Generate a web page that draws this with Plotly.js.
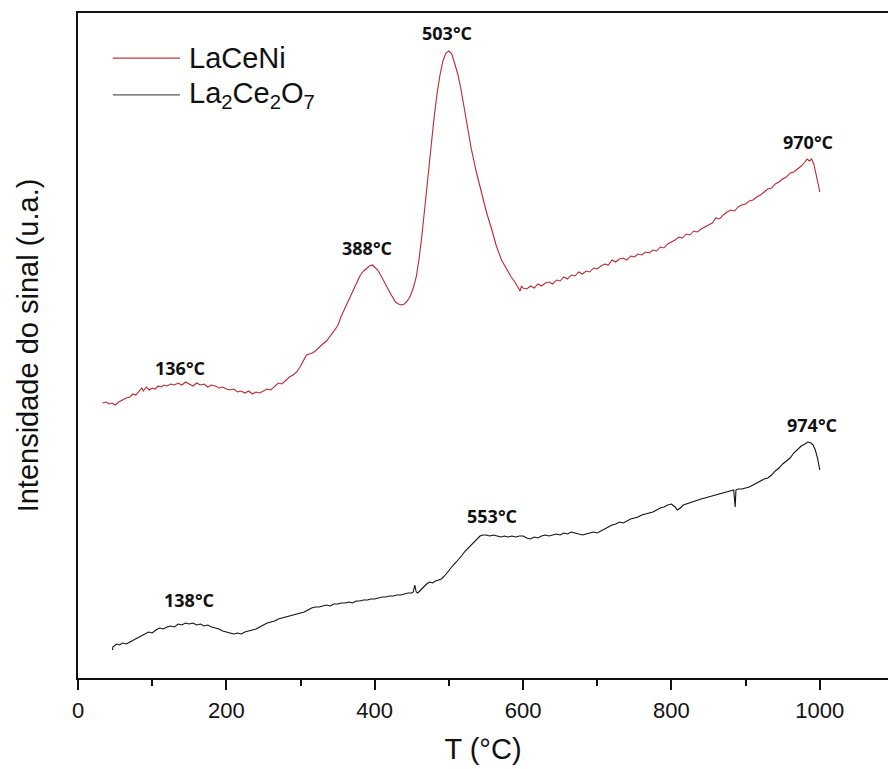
<!DOCTYPE html>
<html>
<head>
<meta charset="utf-8">
<script src="https://cdn.plot.ly/plotly-3.0.1.min.js"></script>
<style>html,body{margin:0;padding:0;background:#fff;}#chart{width:888px;height:769px;}</style>
</head>
<body>
<div id="chart"></div>
<script>
// Series names
const seriesNames = ["LaCeNi", "La<sub>2</sub>Ce<sub>2</sub>O<sub>7</sub>"];

// LaCeNi (red) — temperature (°C) and signal intensity (a.u.)
const laceniT = [33, 38, 42, 46, 50, 55, 60, 65, 70, 74, 78, 82, 86, 88, 92, 96, 100, 104, 108, 112, 116, 120, 125, 130, 135, 140, 145, 150, 155, 160, 165, 170, 175, 180, 185, 190, 195, 200, 205, 210, 215, 220, 225, 230, 235, 240, 245, 250, 255, 260, 265, 270, 275, 280, 285, 290, 295, 300, 305, 308, 312, 316, 320, 325, 330, 335, 340, 345, 350, 355, 360, 365, 370, 375, 380, 385, 389, 393, 397, 400, 404, 408, 412, 416, 420, 424, 428, 432, 436, 440, 444, 448, 452, 456, 460, 464, 468, 472, 476, 480, 484, 488, 492, 496, 500, 504, 508, 512, 516, 520, 525, 530, 537, 545, 551, 558, 564, 571, 578, 584, 589, 593, 596, 598, 600, 605, 610, 615, 620, 625, 630, 635, 640, 645, 650, 655, 660, 665, 670, 675, 680, 685, 690, 695, 700, 705, 710, 715, 720, 725, 730, 735, 740, 745, 750, 755, 760, 765, 770, 775, 780, 785, 790, 795, 800, 805, 810, 815, 820, 825, 830, 835, 840, 845, 850, 855, 860, 865, 870, 875, 880, 885, 890, 895, 900, 905, 910, 915, 920, 925, 930, 935, 940, 945, 950, 955, 960, 965, 970, 975, 980, 983, 986, 989, 992, 995, 997, 999, 1000];
const laceniY = [275, 276, 274, 275, 273, 276, 278, 280, 281, 284, 283, 286, 290, 287, 291, 288, 290, 289, 292, 291, 293, 292, 294, 293, 295, 293, 296, 294, 292, 295, 293, 294, 291, 293, 292, 290, 291, 289, 288, 289, 286, 287, 285, 287, 284, 286, 285, 287, 289, 288, 292, 295, 294, 298, 301, 303, 306, 312, 319, 323, 324, 325, 327, 331, 334, 337, 342, 347, 352, 362, 370, 378, 387, 395, 402, 407, 410, 412, 413, 411, 408, 403, 397, 392, 386, 381, 376, 374, 373, 374, 377, 382, 390, 401, 420, 445, 475, 503, 533, 560, 584, 603, 617, 625, 627, 624, 614, 604, 590, 572, 549, 530, 506, 482, 465, 448, 432, 418, 408, 401, 396, 391, 387, 392, 390, 389, 392, 390, 394, 392, 395, 396, 394, 398, 397, 401, 399, 403, 402, 406, 404, 407, 406, 410, 409, 412, 414, 413, 418, 416, 419, 420, 418, 422, 421, 424, 423, 426, 425, 428, 427, 431, 430, 434, 436, 438, 441, 440, 444, 443, 447, 446, 449, 451, 453, 455, 460, 459, 463, 466, 468, 467, 471, 473, 474, 477, 478, 481, 483, 486, 489, 490, 494, 496, 499, 501, 505, 506, 509, 512, 516, 519, 517, 519, 514, 505, 497, 490, 486];

// La2Ce2O7 (black)
const lceoT = [46.5, 47, 52, 56, 60, 65, 70, 75, 80, 85, 90, 95, 100, 105, 110, 115, 120, 125, 130, 135, 140, 145, 150, 155, 160, 165, 170, 175, 180, 185, 190, 195, 200, 205, 210, 215, 220, 225, 230, 235, 240, 245, 250, 255, 260, 265, 270, 275, 280, 285, 290, 295, 300, 305, 310, 315, 320, 325, 330, 335, 340, 345, 350, 355, 360, 365, 370, 375, 380, 385, 390, 395, 400, 405, 410, 415, 420, 425, 430, 435, 440, 445, 450, 452, 454, 456, 458, 462, 466, 470, 474, 478, 482, 486, 490, 494, 498, 502, 506, 510, 514, 518, 522, 526, 530, 534, 538, 542, 546, 550, 555, 560, 565, 570, 575, 580, 585, 590, 595, 600, 605, 610, 615, 620, 625, 630, 635, 640, 645, 650, 655, 660, 665, 670, 675, 680, 685, 690, 695, 700, 705, 710, 715, 720, 725, 730, 735, 740, 745, 750, 755, 760, 765, 770, 775, 780, 785, 790, 795, 800, 805, 808, 812, 816, 820, 825, 830, 835, 840, 845, 850, 855, 860, 865, 870, 875, 880, 884, 886, 887, 890, 895, 900, 905, 910, 915, 920, 925, 930, 935, 940, 945, 950, 955, 960, 965, 970, 975, 980, 984, 988, 991, 994, 997, 1000];
const lceoY = [28, 31, 34, 33, 35, 34, 36, 38, 40, 42, 44, 46, 45, 48, 50, 49, 51, 52, 51, 54, 53, 55, 54, 55, 53, 54, 52, 53, 51, 50, 49, 47, 46, 45, 44, 45, 44, 46, 47, 48, 49, 51, 53, 55, 56, 57, 59, 60, 61, 62, 63, 64, 65, 66, 68, 70, 71, 71, 72, 73, 72, 74, 74, 75, 75, 76, 75, 77, 77, 78, 78, 79, 79, 80, 81, 81, 82, 82, 83, 83, 84, 85, 85, 86, 93, 86, 85, 88, 92, 94, 96, 95, 97, 98, 99, 102, 106, 109, 113, 116, 119, 123, 127, 130, 133, 136, 140, 142, 143, 143, 142, 143, 142, 141, 142, 141, 142, 141, 142, 142, 140, 139, 141, 140, 142, 143, 142, 143, 144, 143, 145, 144, 146, 145, 144, 143, 144, 145, 146, 145, 147, 149, 151, 153, 154, 156, 155, 157, 159, 160, 161, 163, 164, 165, 166, 168, 170, 171, 173, 174, 171, 168, 170, 173, 174, 176, 177, 178, 179, 180, 181, 182, 183, 184, 185, 186, 187, 188, 171, 188, 189, 189, 190, 191, 193, 195, 197, 199, 200, 203, 207, 210, 214, 217, 220, 225, 229, 232, 234, 236, 235, 233, 228, 220, 208];

// Peak labels
const peakLabels = ["503°C", "388°C", "136°C", "970°C", "974°C", "553°C", "138°C"];
const peakT = [498, 390, 137, 984, 989, 558, 150];
const peakY = [645, 430, 310, 536, 253, 162, 78];

// Axis tick values
const xTicks = [0, 200, 400, 600, 800, 1000];
const xTickText = ["0", "200", "400", "600", "800", "1000"];
const xMinorTicks = [100, 300, 500, 700, 900];

const colors = ["#c1272d", "#111111"];
const legendColors = ["#c0393f", "#555555"];

const traces = [
  {x: laceniT, y: laceniY, name: seriesNames[0], type: "scatter", mode: "lines", line: {color: colors[0], width: 1.1}, showlegend: false},
  {x: lceoT, y: lceoY, name: seriesNames[1], type: "scatter", mode: "lines", line: {color: colors[1], width: 1.1}, showlegend: false}
];

const annotations = peakLabels.map((t, i) => ({
  x: peakT[i], y: peakY[i], xref: "x", yref: "y", text: "<b>" + t + "</b>", showarrow: false,
  font: {family: "Open Sans, Liberation Sans, sans-serif", size: 18, color: "#111"},
  xanchor: "center", yanchor: "middle"
}));

// custom legend (line sample + label)
const legY = [0.932, 0.877];
const shapes = [];
seriesNames.forEach((n, i) => {
  shapes.push({type: "line", xref: "paper", yref: "paper", x0: 0.043, x1: 0.126, y0: legY[i], y1: legY[i], line: {color: legendColors[i], width: 1.3}});
  annotations.push({x: 0.135, y: legY[i], xref: "paper", yref: "paper", text: n, showarrow: false, xanchor: "left", yanchor: "middle",
    font: {family: "Liberation Sans, Arial, sans-serif", size: 29, color: "#111"}});
});

const layout = {
  width: 888, height: 769,
  margin: {l: 78, r: 0, t: 13, b: 91},
  paper_bgcolor: "#fff", plot_bgcolor: "#fff",
  showlegend: false,
  font: {family: "Liberation Sans, Arial, sans-serif", color: "#111"},
  xaxis: {
    range: [0, 1092], showgrid: false, zeroline: false,
    showline: true, linecolor: "#111", linewidth: 2, mirror: true,
    ticks: "outside", ticklen: 10, tickwidth: 2, tickcolor: "#111",
    tickvals: xTicks, ticktext: xTickText, ticklabelstandoff: 2,
    tickfont: {size: 22, color: "#111"},
    minor: {tickvals: xMinorTicks, ticks: "outside", ticklen: 6, tickwidth: 2, tickcolor: "#111"},
    title: {text: "T (°C)", font: {size: 29, color: "#111"}, standoff: 16}
  },
  yaxis: {
    range: [0, 665], showgrid: false, zeroline: false,
    showline: true, linecolor: "#111", linewidth: 2, mirror: false,
    ticks: "", showticklabels: false,
    title: {text: "Intensidade do sinal (u.a.)", font: {size: 29, color: "#111"}, standoff: 29}
  },
  annotations: annotations,
  shapes: shapes
};

Plotly.newPlot("chart", traces, layout, {displayModeBar: false, staticPlot: true});
</script>
</body>
</html>
